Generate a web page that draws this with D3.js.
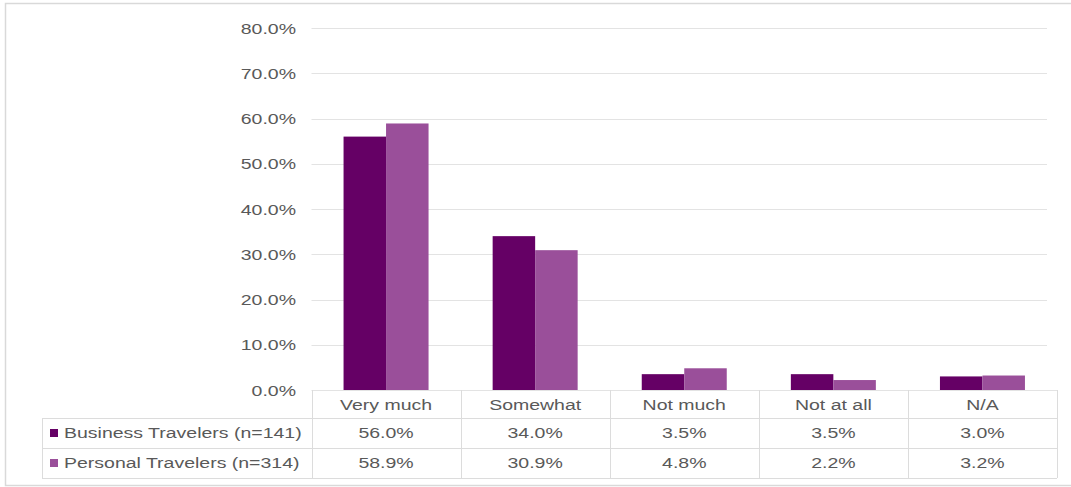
<!DOCTYPE html>
<html>
<head>
<meta charset="utf-8">
<script src="https://cdn.jsdelivr.net/npm/d3@7"></script>
<style>
  html, body { margin: 0; padding: 0; background: #fff; }
  svg text { font-family: "Liberation Sans", Arial, sans-serif; fill: #595959; }
</style>
</head>
<body>
<svg id="chart" width="1071" height="487"></svg>
<script>
const categories = ["Very much", "Somewhat", "Not much", "Not at all", "N/A"];
const seriesNames = ["Business Travelers (n=141)", "Personal Travelers (n=314)"];
const businessValues = [56.0, 34.0, 3.5, 3.5, 3.0];
const personalValues = [58.9, 30.9, 4.8, 2.2, 3.2];
const yTicks = [0, 10, 20, 30, 40, 50, 60, 70, 80];
const colors = ["#650065", "#9a4f9a"];

const series = [businessValues, personalValues];
const svg = d3.select("#chart");
const FS = 15, SX = 1.3;

// outer border
svg.append("rect").attr("x", 5.5).attr("y", 3.5).attr("width", 1080).attr("height", 482)
  .attr("fill", "none").attr("stroke", "#d9d9d9").attr("stroke-width", 1.5);

const x = d3.scaleBand().domain(categories).range([311.5, 1057]).padding(0);
const y = d3.scaleLinear().domain([0, 80]).range([390, 28]);

// gridlines
svg.append("g").selectAll("line").data(yTicks).join("line")
  .attr("x1", 311.5).attr("x2", d => d === 0 ? 1057 : 1047)
  .attr("y1", d => Math.round(y(d)) + 0.5).attr("y2", d => Math.round(y(d)) + 0.5)
  .attr("stroke", "#e3e3e3").attr("stroke-width", 1.2);

function stretchedText(g, tx, ty, str, anchor) {
  return g.append("text")
    .attr("transform", `translate(${tx},${ty}) scale(${SX},1)`)
    .attr("text-anchor", anchor)
    .attr("dominant-baseline", "central")
    .attr("font-size", FS)
    .text(str);
}

// y axis labels
const yAxis = d3.axisLeft(y).tickValues(yTicks).tickSize(0).tickFormat(d => d.toFixed(1) + "%");
const yg = svg.append("g").attr("transform", "translate(296,0)").call(yAxis);
yg.select(".domain").remove();
yg.selectAll(".tick text").remove();
yg.selectAll(".tick").each(function(d) {
  stretchedText(d3.select(this), 0, 0, d.toFixed(1) + "%", "end");
});

// bars
const barW = 42.5;
const bars = svg.append("g");
series.forEach((vals, si) => {
  bars.selectAll(null).data(vals).join("rect")
    .attr("x", (d, i) => x(categories[i]) + x.bandwidth() / 2 - barW + si * barW)
    .attr("y", d => y(d))
    .attr("width", barW)
    .attr("height", d => y(0) - y(d))
    .attr("fill", colors[si]);
});

// data table
const rowLines = [418, 448, 478];
const tbl = svg.append("g").attr("stroke", "#dcdcdc").attr("stroke-width", 1);
rowLines.forEach(ry => {
  tbl.append("line").attr("x1", 42).attr("x2", 1057).attr("y1", ry + 0.5).attr("y2", ry + 0.5);
});
tbl.append("line").attr("x1", 42.5).attr("x2", 42.5).attr("y1", 418).attr("y2", 478);
const bounds = categories.map(c => x(c)).concat([x.range()[1]]);
tbl.selectAll(null).data(bounds).join("line")
  .attr("x1", d => Math.round(d) + 0.5).attr("x2", d => Math.round(d) + 0.5)
  .attr("y1", 390).attr("y2", 478);

const tg = svg.append("g");
categories.forEach(c => stretchedText(tg, x(c) + x.bandwidth() / 2, 405, c, "middle"));
series.forEach((vals, si) => {
  const cy = 433 + si * 30;
  vals.forEach((v, i) => stretchedText(tg, x(categories[i]) + x.bandwidth() / 2, cy, v.toFixed(1) + "%", "middle"));
  tg.append("rect").attr("x", 50).attr("y", cy - 4).attr("width", 8).attr("height", 8).attr("fill", colors[si]);
  stretchedText(tg, 64, cy, seriesNames[si], "start");
});
</script>
</body>
</html>
